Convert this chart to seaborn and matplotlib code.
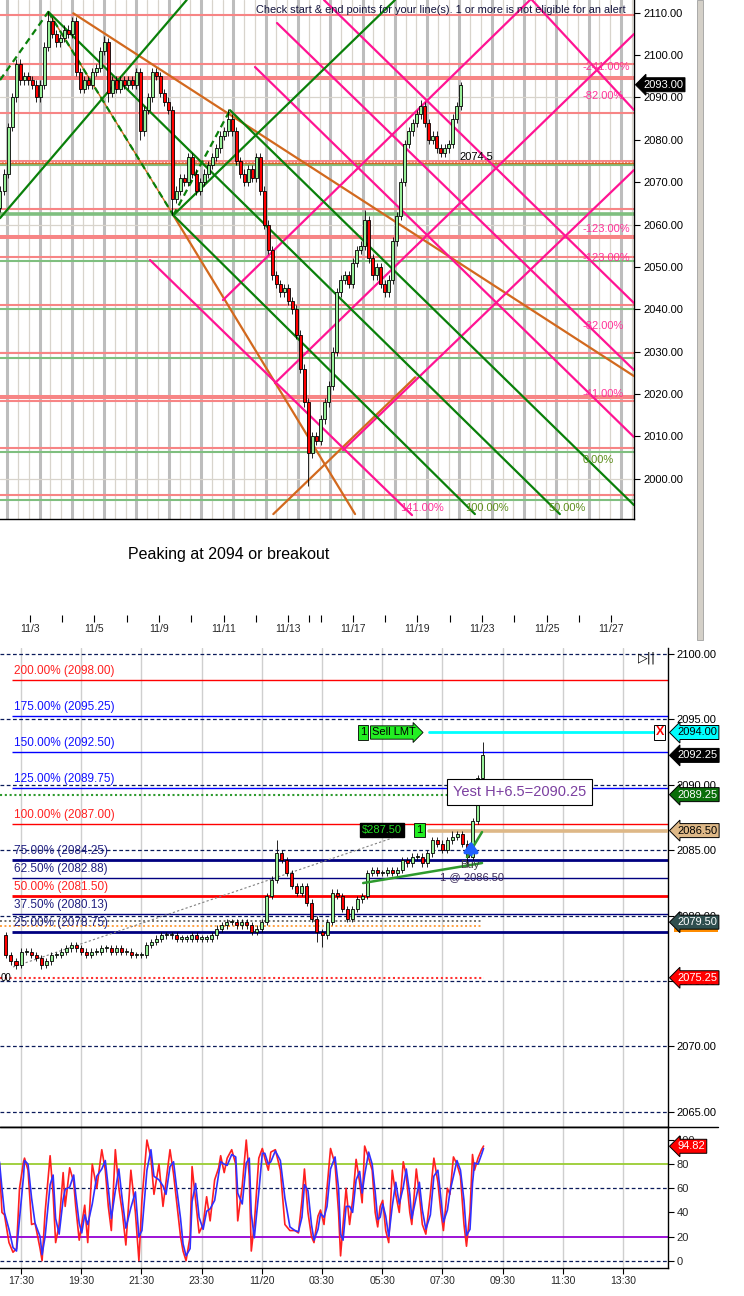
import numpy as np
import pandas as pd
import matplotlib
matplotlib.use("Agg")
import matplotlib.pyplot as plt
import matplotlib.transforms as mtransforms
from matplotlib.lines import Line2D
from matplotlib.patches import Rectangle
import seaborn as sns

# ============================ DATA ============================
# ---- upper chart (x = trading-day index, 11/3 = 0) ----
top_close = [2068, 2072, 2083, 2090, 2098, 2094, 2095, 2094, 2093, 2090,
             2093, 2102, 2108, 2105, 2103, 2104, 2106, 2105, 2108, 2096,
             2092, 2094, 2093, 2096, 2097, 2101, 2103, 2091, 2094, 2092,
             2094, 2093, 2094, 2093, 2096, 2082, 2087, 2090, 2096, 2095,
             2091, 2089, 2087, 2066, 2068, 2071, 2070, 2076, 2072, 2068,
             2070, 2072, 2074, 2076, 2078, 2081, 2082, 2085, 2082, 2075,
             2072, 2070, 2073, 2071, 2076, 2068, 2060, 2054, 2048, 2046,
             2044, 2045, 2042, 2040, 2034, 2026, 2018, 2006, 2010, 2009,
             2014, 2018, 2022, 2030, 2044, 2047, 2048, 2046, 2051, 2054,
             2055, 2061, 2052, 2048, 2050, 2046, 2044, 2047, 2056, 2062,
             2070, 2079, 2082, 2084, 2086, 2088, 2084, 2080, 2081, 2078,
             2077, 2078, 2079, 2085, 2088, 2093]
top_first_open = 2064.0
top_start_day = -0.92
top_bar_days = 0.124
top_high_spikes = {12: 2110.3, 26: 2104.5, 57: 2087.2, 91: 2063.5, 105: 2089.5, 115: 2093.7}
top_low_spikes = {27: 2089.0, 35: 2080.0, 43: 2062.2, 77: 1998.2}
top_price_ticks = [2000, 2010, 2020, 2030, 2040, 2050, 2060, 2070, 2080, 2090, 2100, 2110]
top_last_price = 2093.00
top_marker_text = "2074.5"

date_tick_days = [0, 1, 2, 3, 4, 5, 6, 7, 8, 8.65, 9, 10, 11, 12, 13, 14, 15, 16, 17, 18]
date_labels = {0: "11/3", 2: "11/5", 4: "11/9", 6: "11/11", 8: "11/13", 10: "11/17",
               12: "11/19", 14: "11/23", 16: "11/25", 18: "11/27"}

hline_salmon = [2109.5, 2097.9, 2086.4, 2063.7, 2052.3, 2041.1, 2029.7, 2018.4, 2007.3, 1996.1]
hline_salmon_heavy = [2094.6, 2074.8, 2057.1, 2019.3]
hline_green = [2074.1, 2051.5, 2040.0, 2028.6, 2006.4, 1995.0]
hline_green_heavy = [2062.5]
hline_grid = [2000, 2030, 2060, 2090]

# line segments: ((day0, price0), (day1, price1))
green_lines = [((0.573, 2110.2), (16.41, 1991.66)),
               ((6.198, 2087.0), (18.706, 1993.78)),
               ((4.443, 2062.2), (13.78, 1991.66)),
               ((-0.923, 2061.5), (4.858, 2113.0)),
               ((4.443, 2062.2), (11.307, 2113.0))]
green_dashed_lines = [((-0.923, 2094.1), (0.573, 2110.2)),
                      ((0.573, 2110.2), (4.443, 2062.2)),
                      ((4.443, 2062.2), (6.198, 2087.0))]
orange_lines = [((4.443, 2062.2), (10.07, 1991.66)),
                ((7.539, 1991.66), (11.93, 2023.93)),
                ((1.347, 2109.86), (18.706, 2024.23))]
pink_lines = [((6.972, 2097.18), (18.706, 2009.84)),
              ((7.653, 2107.57), (18.706, 2025.65)),
              ((9.108, 2113.0), (18.706, 2041.47)),
              ((3.721, 2051.62), (11.833, 1991.42)),
              ((15.548, 2113.0), (18.706, 2087.03)),
              ((5.981, 2042.18), (15.486, 2113.0)),
              ((7.591, 2022.58), (18.706, 2104.97)),
              ((9.697, 2006.77), (18.706, 2072.87))]
pink_labels = [("-241.00%", 17.10, 2097.2), ("-82.00%", 17.10, 2090.3),
               ("-123.00%", 17.10, 2058.9), ("-123.00%", 17.10, 2052.1),
               ("-82.00%", 17.10, 2036.0), ("-41.00%", 17.10, 2020.0),
               ("141.00%", 11.46, 1993.1)]
green_labels = [("0.00%", 17.10, 2004.4), ("100.00%", 13.47, 1993.1), ("50.00%", 16.07, 1993.1)]

# ---- intraday chart (x = minutes after 17:30 on 11/19) ----
mid_close = [2077.0, 2076.5, 2076.25, 2077.25, 2077.25, 2077.0, 2076.75, 2076.25, 2076.5, 2077.0,
             2077.0, 2077.25, 2077.5, 2077.75, 2077.5, 2077.25, 2077.0, 2077.25, 2077.25, 2077.5,
             2077.5, 2077.25, 2077.5, 2077.25, 2077.25, 2077.0, 2077.0, 2077.0, 2077.75, 2078.0,
             2078.25, 2078.5, 2078.5, 2078.5, 2078.25, 2078.25, 2078.25, 2078.5, 2078.25, 2078.25,
             2078.25, 2078.5, 2079.0, 2079.25, 2079.5, 2079.5, 2079.25, 2079.5, 2079.25, 2078.75,
             2079.0, 2079.5, 2081.5, 2082.75, 2084.75, 2084.25, 2083.25, 2082.25, 2081.75, 2082.25,
             2081.0, 2079.75, 2078.75, 2078.5, 2079.5, 2081.75, 2081.5, 2080.5, 2079.75, 2080.5,
             2081.25, 2081.5, 2083.25, 2083.5, 2083.25, 2083.25, 2083.5, 2083.25, 2083.5, 2084.25,
             2084.0, 2084.5, 2084.5, 2084.0, 2084.75, 2085.75, 2085.5, 2085.0, 2085.75, 2086.0,
             2086.25, 2085.5, 2084.5, 2087.25, 2090.5, 2092.25]
mid_first_open = 2078.5
mid_start_min = -30
mid_bar_min = 10
mid_high_spikes = {54: 2085.75, 89: 2086.5, 95: 2093.25}
mid_low_spikes = {2: 2075.9, 7: 2075.9, 62: 2078.0, 63: 2077.6, 92: 2083.75}
mid_price_ticks = [2065, 2070, 2075, 2080, 2085, 2090, 2095, 2100]
time_ticks_min = [0, 120, 240, 360, 480, 600, 720, 840, 960, 1080, 1200]
time_labels = ["17:30", "19:30", "21:30", "23:30", "11/20", "03:30", "05:30",
               "07:30", "09:30", "11:30", "13:30"]

fib_pct = [200, 175, 150, 125, 100, 75, 62.5, 50, 37.5, 25]
fib_price = [2098.00, 2095.25, 2092.50, 2089.75, 2087.00, 2084.25, 2082.88, 2081.50, 2080.13, 2078.75]

sell_price = 2094.00
last_price = 2092.25
green_dot_price = 2089.25
entry_price = 2086.50
slate_price = 2079.50
orange_dot_price = 2079.30
red_dot_price = 2075.25
pnl_text = "$287.50"
note_text = "Yest H+6.5=2090.25"
note_price = 2089.45
note_min = 994

trend_green = [((682, 2082.49), (919, 2084.02)), ((889, 2084.48), (919, 2086.39))]
trend_gray = ((-16, 2076.07), (740, 2085.93))

# ---- stochastic ----
stoch_t = [-43, -38, -33, -24, -16, -9, -3, 5, 7, 14,
           21, 28, 38, 42, 48, 58, 64, 69, 76, 84,
           88, 97, 105, 109, 116, 121, 127, 133, 142, 151,
           161, 168, 174, 180, 188, 195, 202, 209, 219, 228,
           235, 241, 251, 259, 265, 275, 283, 289, 297, 304,
           310, 318, 323, 329, 337, 341, 348, 355, 363, 370,
           377, 386, 394, 398, 405, 411, 420, 428, 432, 441,
           449, 455, 459, 465, 474, 481, 486, 493, 498, 507,
           517, 526, 536, 546, 553, 560, 565, 572, 579, 584,
           592, 597, 604, 610, 617, 626, 633, 637, 642, 648,
           655, 661, 668, 675, 680, 685, 693, 700, 706, 711,
           716, 721, 727, 733, 740, 747, 754, 762, 768, 775,
           779, 788, 794, 800, 807, 816, 823, 831, 837, 842,
           850, 855, 862, 869, 876, 883, 888, 895, 900, 904,
           911, 918, 922]
stoch_k = [80, 40, 38, 15, 7, 10, 60, 82, 85, 75,
           30, 31, 10, 0, 40, 87, 55, 15, 30, 73,
           45, 77, 65, 45, 17, 30, 46, 15, 80, 60,
           92, 75, 45, 25, 92, 60, 40, 13, 75, 40,
           0, 50, 100, 85, 55, 80, 45, 65, 92, 72,
           50, 20, 8, 0, 20, 78, 50, 23, 30, 53,
           33, 67, 77, 87, 73, 85, 92, 80, 33, 62,
           100, 70, 8, 30, 85, 93, 85, 75, 90, 92,
           75, 30, 25, 25, 23, 50, 76, 40, 20, 15,
           37, 42, 30, 60, 93, 80, 40, 4, 30, 60,
           30, 50, 84, 65, 48, 95, 85, 75, 40, 28,
           45, 50, 25, 15, 75, 55, 40, 82, 70, 40,
           30, 76, 55, 30, 22, 55, 85, 65, 40, 25,
           60, 55, 86, 80, 70, 30, 12, 40, 88, 75,
           85, 92, 95]
stoch_d = [82, 60, 40, 26, 11, 8, 35, 70, 83, 80,
           52, 31, 20, 5, 20, 63, 71, 35, 22, 51,
           59, 61, 71, 55, 31, 23, 38, 30, 47, 70,
           76, 83, 60, 35, 58, 76, 50, 27, 44, 57,
           20, 25, 75, 92, 70, 67, 62, 55, 78, 82,
           61, 35, 14, 4, 10, 49, 64, 36, 26, 41,
           43, 50, 72, 82, 80, 79, 88, 86, 56, 47,
           81, 85, 39, 19, 57, 89, 89, 80, 82, 91,
           83, 52, 28, 25, 24, 36, 63, 58, 30, 17,
           26, 39, 36, 45, 76, 86, 60, 22, 17, 45,
           45, 40, 67, 74, 56, 71, 90, 80, 57, 34,
           36, 47, 37, 20, 45, 65, 47, 61, 76, 55,
           35, 53, 65, 42, 26, 38, 70, 75, 52, 32,
           42, 57, 70, 83, 75, 50, 21, 26, 64, 81,
           80, 88, 93]
stoch_last = 94.82
stoch_ticks = [0, 20, 40, 60, 80, 100]

# ============================ STYLE / LAYOUT ============================
sns.set_theme(style="white")
plt.rcParams['font.family'] = ['Liberation Sans', 'DejaVu Sans']

W, H = 744, 1296
fig = plt.figure(figsize=(W / 100, H / 100), dpi=100)
fig.patch.set_facecolor('white')


def rect(x0, y0, x1, y1):
    return [x0 / W, 1 - y1 / H, (x1 - x0) / W, (y1 - y0) / H]


def draw_candles(ax, x, opens, closes, hi_sp, lo_sp, wick, width, lw, min_body):
    o = np.asarray(opens, float)
    c = np.asarray(closes, float)
    h = np.maximum(o, c) + wick
    l = np.minimum(o, c) - wick
    for k, v in hi_sp.items():
        h[k] = v
    for k, v in lo_sp.items():
        l[k] = v
    ax.vlines(x, l, h, color='black', lw=lw, zorder=5)
    up = c >= o
    bottom = np.minimum(o, c)
    height = np.maximum(np.abs(c - o), min_body)
    cols = np.where(up, '#98F098', '#FF0000')
    ax.bar(x, height, width=width, bottom=bottom, color=cols, edgecolor='black',
           linewidth=lw, zorder=6)


def tag(ax, y, text, fc, tc, dx_px, axw_px, fs=8, ec=None):
    trans = mtransforms.blended_transform_factory(ax.transAxes, ax.transData)
    ax.text(1.0 + dx_px / axw_px, y, text, transform=trans, ha='left', va='center',
            fontsize=fs, color=tc, zorder=30, clip_on=False,
            bbox=dict(boxstyle='larrow,pad=0.18', fc=fc, ec=ec or 'black', lw=0.7))


# ------------------------------ upper chart ------------------------------
ax = fig.add_axes(rect(0, 0, 634, 519))
ax.set_xlim(-0.923, 18.706)
ax.set_ylim(1990.5, 2113.0)
ax.set_facecolor('white')
for s in ['left', 'top']:
    ax.spines[s].set_visible(False)
for s in ['right', 'bottom']:
    ax.spines[s].set_color('black')
    ax.spines[s].set_linewidth(1)
ax.yaxis.tick_right()
ax.set_yticks(top_price_ticks)
ax.set_yticklabels([f"{v:.2f}" for v in top_price_ticks])
ax.tick_params(axis='y', length=4.5, width=0.8, color='black', labelsize=8, pad=2,
               labelcolor='black', direction='out', right=True)
ax.set_xticks([])

grid_days = np.arange(-0.697, 18.8, 1 / 3)
for i, d in enumerate(grid_days):
    if i % 3 == 0:
        ax.axvline(d, color='#BDBDBD', lw=2.2, zorder=0)
    else:
        ax.axvline(d, color='#D8D4CC', lw=0.9, zorder=0)
for v in hline_grid:
    ax.axhline(v, color='#D8D4CC', lw=0.9, zorder=0)

for v in hline_salmon:
    ax.axhline(v, color='#F78585', lw=1.5, zorder=1)
for v in hline_salmon_heavy:
    ax.axhline(v, color='#F78585', lw=2.9, zorder=1)
for v in hline_green:
    ax.axhline(v, color='#7FBF7F', lw=1.5, zorder=1)
for v in hline_green_heavy:
    ax.axhline(v, color='#7FBF7F', lw=2.6, zorder=1)
ax.axhline(2074.5, color='#D2691E', lw=1.0, zorder=1.5)
ax.axhline(2074.8, color='white', lw=0.8, ls=(0, (1, 2)), zorder=1.6)

for (p0, p1) in orange_lines:
    ax.plot([p0[0], p1[0]], [p0[1], p1[1]], color='#D2691E', lw=1.6, zorder=3)
ax.plot([green_dashed_lines[1][0][0], green_dashed_lines[1][1][0]],
        [green_dashed_lines[1][0][1], green_dashed_lines[1][1][1]],
        color='#D2691E', lw=1.0, zorder=3)
for (p0, p1) in pink_lines:
    ax.plot([p0[0], p1[0]], [p0[1], p1[1]], color='#FF1493', lw=1.6, zorder=3)
for (p0, p1) in green_lines:
    ax.plot([p0[0], p1[0]], [p0[1], p1[1]], color='#0A800A', lw=1.6, zorder=3)
for (p0, p1) in green_dashed_lines:
    ax.plot([p0[0], p1[0]], [p0[1], p1[1]], color='#0A800A', lw=1.6, ls=(0, (3, 2)), zorder=3.2)

top_x = top_start_day + np.arange(len(top_close)) * top_bar_days
top_open = [top_first_open] + top_close[:-1]
draw_candles(ax, top_x, top_open, top_close, top_high_spikes, top_low_spikes,
             1.0, top_bar_days * 0.7, 0.6, 0.35)

for txt, d, p in pink_labels:
    ax.text(d, p, txt, color='#FF3399', fontsize=8, va='center', ha='left', zorder=8)
for txt, d, p in green_labels:
    ax.text(d, p, txt, color='#5E8F1E', fontsize=8, va='center', ha='left', zorder=8)
ax.text(13.29, 2075.9, top_marker_text, color='black', fontsize=8, va='center', ha='left', zorder=8)
tag(ax, top_last_price, f"{top_last_price:.2f}", 'black', 'white', 9, 634)

fig.text(256 / W, 1 - 10 / H,
         "Check start & end points for your line(s). 1 or more is not eligible for an alert",
         fontsize=7.9, color='#14143C', va='center', ha='left')

# gray scrollbar strip on right
fig.add_artist(Rectangle((697 / W, 1 - 640 / H), 6 / W, 640 / H, transform=fig.transFigure,
                         fc='#D4D0C8', ec='#A0A0A0', lw=0.6))

# ------------------------------ caption + date strip ------------------------------
fig.text(128 / W, 1 - 555 / H, "Peaking at 2094 or breakout", fontsize=11.5,
         color='black', va='center', ha='left')

axd = fig.add_axes(rect(0, 615, 634, 622))
axd.set_xlim(-0.923, 18.706)
axd.set_ylim(0, 1)
for s in axd.spines.values():
    s.set_visible(False)
axd.set_facecolor('none')
axd.set_yticks([])
axd.set_xticks(date_tick_days)
axd.set_xticklabels([date_labels.get(d, "") for d in date_tick_days])
axd.tick_params(axis='x', direction='in', length=5, width=0.8, color='black',
                labelsize=7.5, pad=1.5, bottom=True)

# ------------------------------ intraday chart ------------------------------
axm = fig.add_axes(rect(0, 648, 668, 1127))
axm.set_xlim(-41.9, 1289.7)
axm.set_ylim(2063.84, 2100.46)
axm.set_facecolor('white')
for s in ['left', 'top']:
    axm.spines[s].set_visible(False)
for s in ['right', 'bottom']:
    axm.spines[s].set_color('black')
    axm.spines[s].set_linewidth(1)
axm.yaxis.tick_right()
axm.set_yticks(mid_price_ticks)
axm.set_yticklabels([f"{v:.2f}" for v in mid_price_ticks])
axm.tick_params(axis='y', length=4, width=0.8, color='black', labelsize=8, pad=2,
                labelcolor='black', right=True)
axm.set_xticks(time_ticks_min)
axm.set_xticklabels([])
axm.tick_params(axis='x', length=0)
for t in time_ticks_min:
    axm.axvline(t, color='#CFCFCF', lw=1, zorder=0)
for v in mid_price_ticks:
    axm.axhline(v, color='#0A1A5A', lw=0.9, ls=(0, (3, 2)), zorder=1)

fib_style = {200: ('#FF0000', 1.0), 175: ('#0000FF', 1.0), 150: ('#0000FF', 1.0),
             125: ('#0000FF', 1.0), 100: ('#FF0000', 1.0), 75: ('#000080', 2.0),
             62.5: ('#000080', 1.0), 50: ('#FF0000', 2.0), 37.5: ('#000080', 1.0),
             25: ('#000080', 2.0)}
fib_text_col = {200: '#FF2020', 175: '#1010FF', 150: '#1010FF', 125: '#1010FF',
                100: '#FF2020', 75: '#202080', 62.5: '#202080', 50: '#FF2020',
                37.5: '#202080', 25: '#202080'}
for pct, price in zip(fib_pct, fib_price):
    col, lw = fib_style[pct]
    axm.plot([-18, 1289.7], [price, price], color=col, lw=lw, zorder=2, solid_capstyle='butt')
    axm.text(-14, price + 0.22, f"{pct:.2f}% ({price:.2f})", color=fib_text_col[pct],
             fontsize=8.5, ha='left', va='bottom', zorder=7)

axm.plot([-42, 895], [green_dot_price, green_dot_price], color='#2E9A2E', lw=1.5,
         ls=(0, (1, 1.3)), zorder=2)
axm.plot([-42, 920], [slate_price + 0.1, slate_price + 0.1], color='#707070', lw=1.4,
         ls=(0, (1, 1.3)), zorder=2)
axm.plot([-42, 920], [orange_dot_price - 0.1, orange_dot_price - 0.1], color='#FFA040', lw=1.4,
         ls=(0, (1, 1.3)), zorder=2)
axm.plot([-42, 922], [red_dot_price, red_dot_price], color='#FF3030', lw=1.5,
         ls=(0, (1, 1.3)), zorder=2)
axm.plot([813, 1289.7], [entry_price, entry_price], color='#DEB887', lw=2.6, zorder=3)
axm.plot([813, 1262], [sell_price, sell_price], color='#00FFFF', lw=2.0, zorder=3)

axm.plot([trend_gray[0][0], trend_gray[1][0]], [trend_gray[0][1], trend_gray[1][1]],
         color='#808080', lw=0.8, ls=(0, (2, 2)), zorder=3)

mid_x = mid_start_min + np.arange(len(mid_close)) * mid_bar_min
mid_open = [mid_first_open] + mid_close[:-1]
draw_candles(axm, mid_x, mid_open, mid_close, mid_high_spikes, mid_low_spikes,
             0.25, mid_bar_min * 0.6, 0.6, 0.08)

for (p0, p1) in trend_green:
    axm.plot([p0[0], p1[0]], [p0[1], p1[1]], color='#2E9A2E', lw=1.8, zorder=7)

axm.annotate("", xy=(897, 2085.9), xytext=(897, 2084.45),
             arrowprops=dict(arrowstyle='-|>,head_width=0.35,head_length=0.5',
                             color='#2060FF', lw=2.5), zorder=8)
axm.text(895, 2083.87, "Buy", fontsize=8, color='#404040', ha='center', va='center', zorder=8)
axm.text(899, 2082.95, f"1 @ {entry_price:.2f}", fontsize=8, color='#3C2C5C',
         ha='center', va='center', zorder=8)

axm.text(682, sell_price, "1", fontsize=8, color='black', ha='center', va='center', zorder=9,
         bbox=dict(boxstyle='square,pad=0.2', fc='#22EE22', ec='black', lw=0.6))
axm.text(700, sell_price, "Sell LMT", fontsize=8, color='black', ha='left', va='center', zorder=9,
         bbox=dict(boxstyle='rarrow,pad=0.15', fc='#22EE22', ec='black', lw=0.6))
axm.text(1273, sell_price, "X", fontsize=9, color='#FF0000', fontweight='bold',
         ha='center', va='center', zorder=9,
         bbox=dict(boxstyle='square,pad=0.12', fc='white', ec='black', lw=0.7))

axm.text(720, entry_price + 0.03, pnl_text, fontsize=8, color='#22DD22', ha='center',
         va='center', zorder=9, bbox=dict(boxstyle='square,pad=0.2', fc='black', ec='black'))
axm.text(794, entry_price + 0.03, "1", fontsize=8, color='black', ha='center', va='center',
         zorder=9, bbox=dict(boxstyle='square,pad=0.2', fc='#22EE22', ec='black', lw=0.6))

axm.text(note_min, note_price, note_text, fontsize=10.5, color='#7B3FA0', ha='center',
         va='center', zorder=10,
         bbox=dict(boxstyle='square,pad=0.38', fc='white', ec='black', lw=0.8))

axm.text(-41, red_dot_price, "00", fontsize=7, color='black', ha='left', va='center', zorder=9)
axm.text(0.955, 0.993, "\u25B7||", transform=axm.transAxes, fontsize=9, color='black',
         ha='left', va='top', zorder=9, family=['DejaVu Sans'])

tag(axm, sell_price, f"{sell_price:.2f}", '#00FFFF', 'black', 9, 668)
tag(axm, last_price, f"{last_price:.2f}", 'black', 'white', 9, 668)
tag(axm, green_dot_price, f"{green_dot_price:.2f}", '#0A6E0A', 'white', 9, 668)
tag(axm, entry_price, f"{entry_price:.2f}", '#DEB887', 'black', 9, 668)
# orange strip just below the slate tag
trans_m = mtransforms.blended_transform_factory(axm.transAxes, axm.transData)
axm.add_patch(Rectangle((1.0 + 6 / 668, slate_price - 0.72), 44 / 668, 0.24, transform=trans_m,
                        fc='#FF8C00', ec='none', zorder=29, clip_on=False))
tag(axm, slate_price, f"{slate_price:.2f}", '#2F4F4F', 'white', 9, 668)
tag(axm, red_dot_price, f"{red_dot_price:.2f}", '#FF0000', 'white', 9, 668)

# ------------------------------ stochastic ------------------------------
axs = fig.add_axes(rect(0, 1127, 668, 1268))
axs.set_xlim(-41.9, 1289.7)
axs.set_ylim(-6.05, 110.8)
axs.set_facecolor('white')
axs.spines['left'].set_visible(False)
for s in ['right', 'bottom', 'top']:
    axs.spines[s].set_color('black')
    axs.spines[s].set_linewidth(1)
axs.yaxis.tick_right()
axs.set_yticks(stoch_ticks)
axs.set_yticklabels([str(v) for v in stoch_ticks])
axs.tick_params(axis='y', length=4, width=0.8, color='black', labelsize=8, pad=2, right=True)
axs.set_xticks(time_ticks_min)
axs.set_xticklabels(time_labels)
axs.tick_params(axis='x', length=4, width=0.8, color='black', labelsize=7.5, pad=2, bottom=True)
for t in time_ticks_min:
    axs.axvline(t, color='#CFCFCF', lw=1, zorder=0)
axs.axhline(80, color='#9ACD32', lw=1.3, zorder=1)
axs.axhline(20, color='#9400D3', lw=1.3, zorder=1)
axs.axhline(60, color='#0A1A5A', lw=0.9, ls=(0, (3, 2)), zorder=1)
axs.axhline(0, color='#0A1A5A', lw=0.9, ls=(0, (3, 2)), zorder=1)

stoch_df = pd.DataFrame({"t": stoch_t, "k": stoch_k, "d": stoch_d})
sns.lineplot(data=stoch_df, x="t", y="k", ax=axs, color='#FF2020', lw=1.2, legend=False, zorder=3)
sns.lineplot(data=stoch_df, x="t", y="d", ax=axs, color='#3030FF', lw=1.2, legend=False, zorder=4)
axs.set_xlabel("")
axs.set_ylabel("")
tag(axs, stoch_last, f"{stoch_last:.2f}", '#FF0000', 'white', 9, 668)

fig.add_artist(Line2D([0, 718 / W], [1 - 1127 / H, 1 - 1127 / H], transform=fig.transFigure,
                      color='black', lw=1))

fig.savefig("out.png", dpi=100, facecolor='white')
